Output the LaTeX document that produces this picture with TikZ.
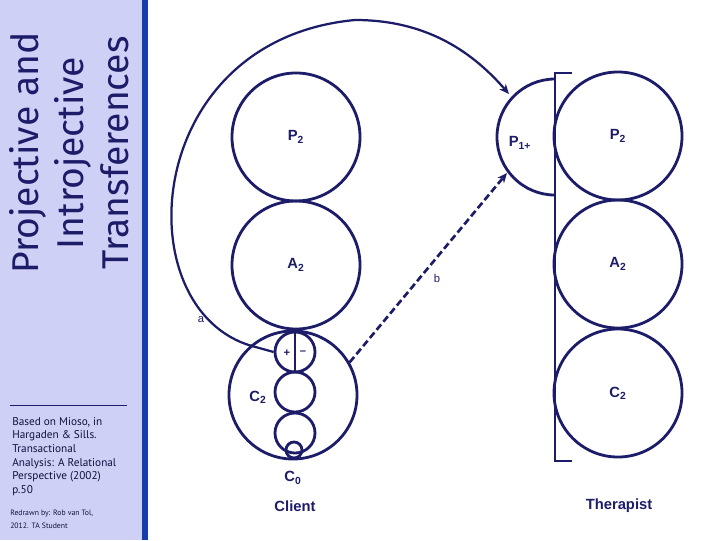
\documentclass[tikz,border=0pt]{standalone}
\usepackage{fontspec}
\setmainfont{Liberation Sans}
\newfontfamily\titlefont{Fira Sans}
\newfontfamily\notefont{PT Sans}
\usetikzlibrary{arrows.meta}
\definecolor{navy}{RGB}{28,28,104}
\definecolor{sidebg}{RGB}{206,208,246}
\definecolor{sidebar}{RGB}{22,62,170}

\begin{document}
\begin{tikzpicture}[x=0.025cm,y=-0.025cm,
  ego/.style={circle,draw=navy,line width=2pt,inner sep=0pt,minimum size=3.2cm,
    text=navy,font=\bfseries\fontsize{10.5}{12}\selectfont},
  small/.style={ego,minimum size=1cm},
  lbl/.style={text=navy,font=\bfseries\fontsize{10.5}{12}\selectfont},
  letter/.style={text=navy,font=\fontsize{8}{9}\selectfont}]
\useasboundingbox (0,0) rectangle (720,540);

% side panel
\fill[sidebg] (0,0) rectangle (142,540);
\fill[sidebar] (142,0) rectangle (148,540);
\node[rotate=90,align=center,text=navy,font=\titlefont\fontsize{26.5}{32}\selectfont] (title) at (69,153)
  {Projective and\\Introjective\\Transferences};
\draw[navy,line width=0.6pt] (10,405) -- (127,405);
\node[anchor=north west,align=left,inner sep=0pt,text=navy!60!black,font=\notefont\fontsize{8}{9.7}\selectfont] (source) at (12,417)
  {Based on Mioso, in\\Hargaden \& Sills.\\Transactional\\Analysis: A Relational\\Perspective (2002)\\p.50};
\node[anchor=north west,align=left,inner sep=0pt,text=navy!60!black,font=\notefont\fontsize{5.5}{9.3}\selectfont] (credit) at (10,510)
  {Redrawn by: Rob van Tol,\\2012. TA Student};

% client
\node[ego] (cP) at (296,137) {P\textsubscript{2}};
\node[ego] (cA) at (296,265) {A\textsubscript{2}};
\node[ego] (cC) at (293,395) {};
\node[lbl] (cClbl) at (258,397) {C\textsubscript{2}};
\node[small] (cC1) at (295,352) {};
\node[small] (cC2) at (295,392) {};
\node[small] (cC3) at (295,433) {};
\node[small,minimum size=0.4cm] (cC0) at (294,450) {};
\draw[navy,line width=1.6pt] (cC1.north) -- (cC1.south);
\node[text=navy,font=\bfseries\fontsize{8}{9}\selectfont] (plus) at (287,353) {+};
\node[text=navy,font=\bfseries\fontsize{8}{9}\selectfont] (minus) at (303,353) {--};
\node[lbl] (cC0lbl) at (293,478) {C\textsubscript{0}};
\node[lbl] (client) at (295,506) {Client};

% therapist
\node[ego] (tP) at (618,136) {P\textsubscript{2}};
\node[ego] (tA) at (618,264) {A\textsubscript{2}};
\node[ego] (tC) at (618,393) {C\textsubscript{2}};
\draw[navy,line width=2pt] (572,73) -- (555,73) -- (555,461) -- (572,461);
\draw[navy,line width=2pt] (555,79) arc[start angle=90,end angle=270,radius=1.45cm];
\node[lbl] (tP1) at (520,143) {P\textsubscript{1+}};
\node[lbl] (therapist) at (619,506) {Therapist};

% transferences
\coordinate (pA) at (509,94);
\coordinate (pB) at (507,173);
\draw[navy,line width=1.6pt,-{Stealth[length=7pt,width=6pt]}] (cC1.west) -- (252,346)
  .. controls (125,310) and (140,40) .. (355,20)
  .. controls (430,20) and (475,55) .. (pA);
\node[letter] (a) at (201,320) {a};
\draw[navy,line width=1.9pt,dash pattern=on 5pt off 2.5pt,-{Stealth[length=7pt,width=6pt]}] (cC.30) -- (pB);
\node[letter] (b) at (437,278) {b};
\end{tikzpicture}
\end{document}
